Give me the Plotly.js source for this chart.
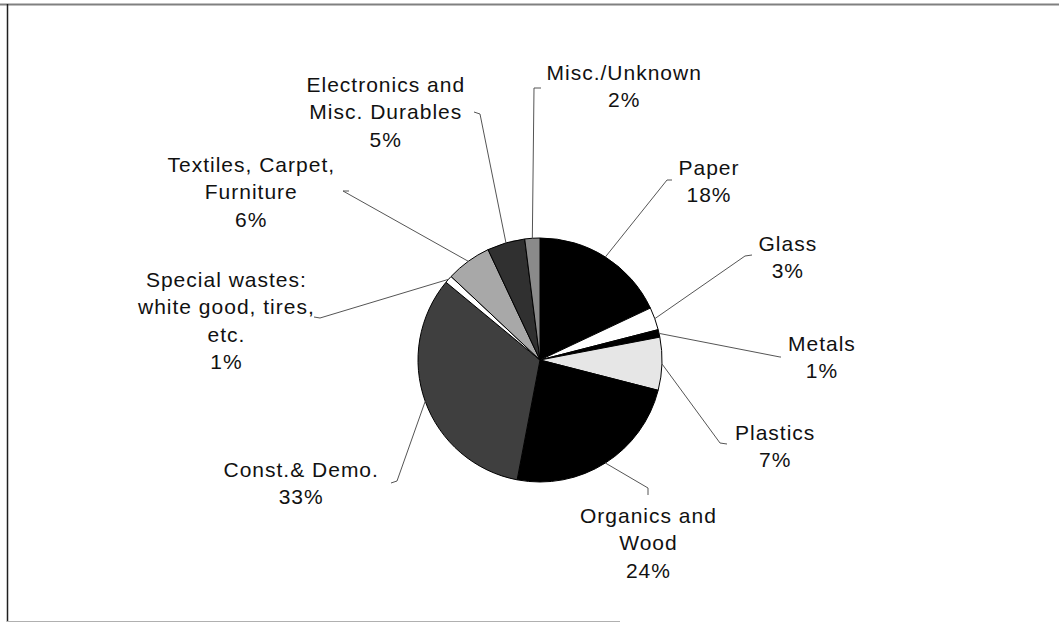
<!DOCTYPE html>
<html>
<head>
<meta charset="utf-8">
<script src="https://cdn.plot.ly/plotly-3.0.1.min.js"></script>
<style>
  html, body { margin: 0; padding: 0; background: #fff; }
  #chart { width: 1059px; height: 626px; }
  #chart .annotation-text { letter-spacing: 1px; }
</style>
</head>
<body>
<div id="chart"></div>
<script>
// ---- Data ----
const categories = [
  "Paper", "Glass", "Metals", "Plastics", "Organics and Wood",
  "Const.& Demo.", "Special wastes: white good, tires, etc.",
  "Textiles, Carpet, Furniture", "Electronics and Misc. Durables", "Misc./Unknown"
];
const shares = [18, 3, 1, 7, 24, 33, 1, 6, 5, 2];
const labelLines = [
  ["Paper"], ["Glass"], ["Metals"], ["Plastics"], ["Organics and", "Wood"],
  ["Const.& Demo."], ["Special wastes:", "white good, tires,", "etc."],
  ["Textiles, Carpet,", "Furniture"], ["Electronics and", "Misc. Durables"], ["Misc./Unknown"]
];
const sliceColors = ["#000000", "#ffffff", "#000000", "#e6e6e6", "#000000",
                     "#3f3f3f", "#ffffff", "#a8a8a8", "#303030", "#8a8a8a"];

// ---- Layout geometry (pixels) ----
const W = 1059, H = 626;
const CX = 540, CY = 360, R = 122;
// label block centres and leader-line ends (layout, not data)
const labelPos = [
  [709, 181], [788, 257], [822, 357], [775, 446], [648, 543],
  [301, 483], [226, 320], [251, 192], [386, 112], [624, 86]
];
const leaderEnd = [
  [[667, 180], [672, 180]],
  [[745, 256], [752, 255]],
  [[780, 357], [781, 357]],
  [[720, 443], [727, 444]],
  [[648, 488], [648, 495]],
  [[397, 481], [391, 483]],
  [[320, 318], [314, 317]],
  [[343, 191], [349, 191]],
  [[480, 114], [474, 112]],
  [[534, 88], [541, 88]]
];

const px = x => x / W;
const py = y => 1 - y / H;

const total = shares.reduce((a, b) => a + b, 0);
let cum = 0;
const shapes = [];
const annotations = [];
shares.forEach((v, i) => {
  const mid = (cum + v / 2) / total * 2 * Math.PI;
  cum += v;
  const ex = CX + R * Math.sin(mid);
  const ey = CY - R * Math.cos(mid);
  const [a, t] = leaderEnd[i];
  shapes.push({
    type: "path", xref: "paper", yref: "paper",
    path: `M ${px(ex)},${py(ey)} L ${px(a[0])},${py(a[1])} L ${px(t[0])},${py(t[1])}`,
    line: { color: "#555555", width: 1 }
  });
  const pct = Math.round(v / total * 100) + "%";
  annotations.push({
    xref: "paper", yref: "paper",
    x: px(labelPos[i][0]), y: py(labelPos[i][1]),
    xanchor: "center", yanchor: "middle",
    text: labelLines[i].concat([pct]).join("<br>"),
    showarrow: false, align: "center",
    font: { family: "Liberation Sans, Arial, sans-serif", size: 21, color: "#111" }
  });
});

// frame
shapes.push({ type: "line", xref: "paper", yref: "paper", x0: 0, x1: 1, y0: py(4.5), y1: py(4.5), line: { color: "#808080", width: 2 } });
shapes.push({ type: "line", xref: "paper", yref: "paper", x0: px(7.5), x1: px(7.5), y0: py(4), y1: py(622), line: { color: "#202020", width: 1.5 } });
shapes.push({ type: "line", xref: "paper", yref: "paper", x0: px(7), x1: px(620), y0: py(621.5), y1: py(621.5), line: { color: "#b0b0b0", width: 1 } });

const trace = {
  type: "pie",
  labels: categories,
  values: shares,
  sort: false,
  direction: "clockwise",
  rotation: 0,
  textinfo: "none",
  hoverinfo: "label+percent",
  showlegend: false,
  marker: { colors: sliceColors, line: { color: "#000000", width: 1 } },
  domain: { x: [px(CX - R), px(CX + R)], y: [py(CY + R), py(CY - R)] }
};

const layout = {
  width: W, height: H,
  margin: { l: 0, r: 0, t: 0, b: 0 },
  paper_bgcolor: "#ffffff",
  showlegend: false,
  shapes: shapes,
  annotations: annotations
};

Plotly.newPlot("chart", [trace], layout, { displayModeBar: false, staticPlot: true });
</script>
</body>
</html>
